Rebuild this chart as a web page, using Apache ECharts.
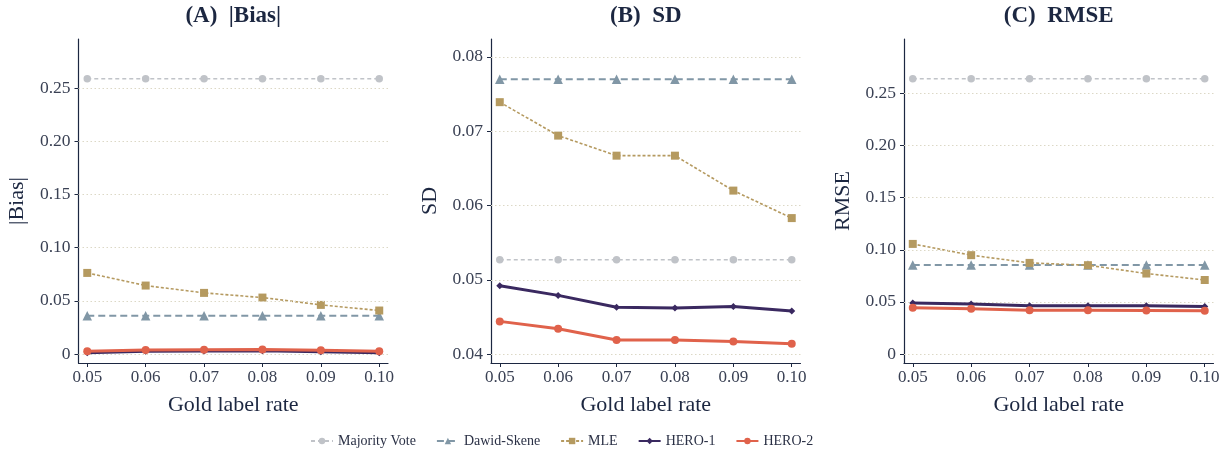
<!DOCTYPE html>
<html>
<head>
<meta charset="utf-8">
<script src="https://cdn.jsdelivr.net/npm/echarts@6/dist/echarts.min.js"></script>
<style>
html,body{margin:0;padding:0;background:#fff;}
#chart{width:1229px;height:451px;}
</style>
</head>
<body>
<div id="chart"></div>
<script>
// ---------- data ----------
const rates = [0.05, 0.06, 0.07, 0.08, 0.09, 0.10];
const xTicks = [0.05, 0.06, 0.07, 0.08, 0.09, 0.10];
const methods = ['Majority Vote', 'Dawid-Skene', 'MLE', 'HERO-1', 'HERO-2'];
const panelTitles = ['(A)  |Bias|', '(B)  SD', '(C)  RMSE'];
const yNames = ['|Bias|', 'SD', 'RMSE'];
const xName = 'Gold label rate';

const biasMV  = [0.259, 0.259, 0.259, 0.259, 0.259, 0.259];
const biasDS  = [0.036, 0.036, 0.036, 0.036, 0.036, 0.036];
const biasMLE = [0.0763, 0.0644, 0.0575, 0.0531, 0.0462, 0.0409];
const biasH1  = [0.0012, 0.0025, 0.0028, 0.0030, 0.0022, 0.0012];
const biasH2  = [0.0025, 0.0038, 0.0040, 0.0043, 0.0036, 0.0026];

const sdMV  = [0.0527, 0.0527, 0.0527, 0.0527, 0.0527, 0.0527];
const sdDS  = [0.0770, 0.0770, 0.0770, 0.0770, 0.0770, 0.0770];
const sdMLE = [0.0739, 0.0694, 0.0667, 0.0667, 0.0620, 0.0583];
const sdH1  = [0.0492, 0.0479, 0.0463, 0.0462, 0.0464, 0.0458];
const sdH2  = [0.0444, 0.0434, 0.0419, 0.0419, 0.0417, 0.0414];

const rmseMV  = [0.264, 0.264, 0.264, 0.264, 0.264, 0.264];
const rmseDS  = [0.0854, 0.0854, 0.0854, 0.0854, 0.0854, 0.0854];
const rmseMLE = [0.1056, 0.0948, 0.0874, 0.0852, 0.0772, 0.0710];
const rmseH1  = [0.0489, 0.0479, 0.0463, 0.0463, 0.0463, 0.0457];
const rmseH2  = [0.0444, 0.0434, 0.0420, 0.0420, 0.0418, 0.0414];

const biasTicks = [0, 0.05, 0.10, 0.15, 0.20, 0.25];
const sdTicks   = [0.04, 0.05, 0.06, 0.07, 0.08];
const rmseTicks = [0, 0.05, 0.10, 0.15, 0.20, 0.25];

// ---------- styling / layout ----------
const FONT = '"Liberation Serif", "DejaVu Serif", serif';
const AXIS_COLOR = '#1c2741';
const LABEL_COLOR = '#3a4154';
const GRID_COLOR = '#dcd8c6';

const panelData = [
  [biasMV, biasDS, biasMLE, biasH1, biasH2],
  [sdMV, sdDS, sdMLE, sdH1, sdH2],
  [rmseMV, rmseDS, rmseMLE, rmseH1, rmseH2]
];
const panelTicks = [biasTicks, sdTicks, rmseTicks];
const yRanges = [[-0.0085, 0.2965], [0.0388, 0.0824], [-0.0086, 0.3021]];
const xRange = [0.0485, 0.1015];
const gridLefts = [78.5, 491, 904];
const gridWidth = 309.5;

const styles = [
  {color: '#c0c3c8', symbol: 'circle', size: 7.5, width: 1.5, type: [4, 3]},
  {color: '#8197a6', symbol: 'triangle', size: 9.5, width: 2, type: [7, 4]},
  {color: '#b59a60', symbol: 'rect', size: 8, width: 1.6, type: [3, 2]},
  {color: '#3a2960', symbol: 'diamond', size: 7, width: 3, type: 'solid'},
  {color: '#e0624b', symbol: 'circle', size: 8, width: 3, type: 'solid'}
];

const fmt = v => (v === 0 ? '0' : v.toFixed(2));

const grids = [], xAxes = [], yAxes = [], series = [], titles = [];
for (let p = 0; p < 3; p++) {
  grids.push({left: gridLefts[p], width: gridWidth, top: 39, height: 324, containLabel: false});
  titles.push({
    text: panelTitles[p],
    left: gridLefts[p] + gridWidth / 2,
    textAlign: 'center',
    top: 5,
    padding: 0,
    textStyle: {fontFamily: FONT, fontSize: 23, fontWeight: 'bold', color: AXIS_COLOR}
  });
  xAxes.push({
    type: 'value', gridIndex: p, min: xRange[0], max: xRange[1],
    name: xName, nameLocation: 'middle', nameGap: 31,
    nameTextStyle: {fontFamily: FONT, fontSize: 22, color: AXIS_COLOR},
    axisLine: {show: true, onZero: false, lineStyle: {color: AXIS_COLOR, width: 1.2}},
    axisTick: {show: true, length: 4, customValues: xTicks, lineStyle: {color: AXIS_COLOR, width: 1}},
    axisLabel: {customValues: xTicks, formatter: fmt, margin: 6, fontFamily: FONT, fontSize: 17, color: LABEL_COLOR},
    splitLine: {show: false}
  });
  yAxes.push({
    type: 'value', gridIndex: p, min: yRanges[p][0], max: yRanges[p][1],
    name: yNames[p], nameLocation: 'middle', nameRotate: 90, nameGap: 50,
    nameTextStyle: {fontFamily: FONT, fontSize: 22, color: AXIS_COLOR},
    axisLine: {show: true, onZero: false, lineStyle: {color: AXIS_COLOR, width: 1.2}},
    axisTick: {show: true, length: 4, customValues: panelTicks[p], lineStyle: {color: AXIS_COLOR, width: 1}},
    axisLabel: {customValues: panelTicks[p], formatter: fmt, margin: 8, fontFamily: FONT, fontSize: 17.5, color: LABEL_COLOR},
    splitLine: {show: false}
  });
  // gridlines drawn at the tick values
  series.push({
    type: 'line', xAxisIndex: p, yAxisIndex: p, data: [], silent: true, z: 0,
    markLine: {
      silent: true, symbol: ['none', 'none'], label: {show: false}, animation: false,
      lineStyle: {color: GRID_COLOR, type: [1.5, 2.5], width: 1},
      data: panelTicks[p].map(v => ({yAxis: v}))
    }
  });
  for (let m = 0; m < methods.length; m++) {
    const s = styles[m];
    series.push({
      name: methods[m], type: 'line', xAxisIndex: p, yAxisIndex: p,
      data: rates.map((r, i) => [r, panelData[p][m][i]]),
      symbol: s.symbol, symbolSize: s.size, showSymbol: true,
      itemStyle: {color: s.color},
      lineStyle: {color: s.color, width: s.width, type: s.type},
      z: 2 + m, animation: false
    });
  }
}

const chart = echarts.init(document.getElementById('chart'), null, {renderer: 'canvas'});
chart.setOption({
  backgroundColor: '#ffffff',
  animation: false,
  title: titles,
  grid: grids,
  xAxis: xAxes,
  yAxis: yAxes,
  legend: {
    data: methods, left: 310, top: 434, padding: 0,
    itemWidth: 22, itemHeight: 8, itemGap: 20,
    textStyle: {fontFamily: FONT, fontSize: 14, color: '#2a3045'}
  },
  series: series
});
</script>
</body>
</html>
